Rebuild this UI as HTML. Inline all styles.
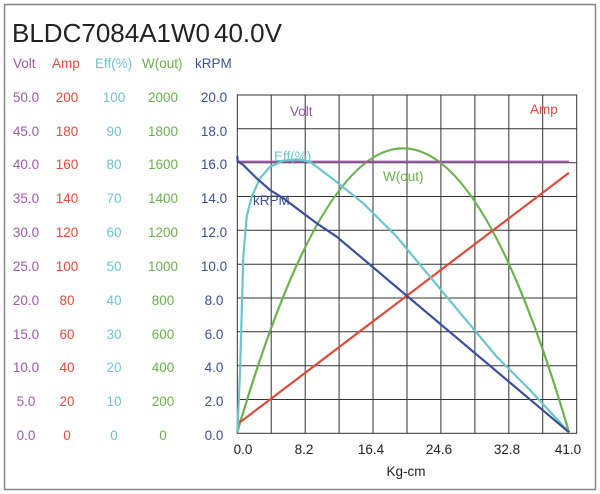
<!DOCTYPE html>
<html><head><meta charset="utf-8"><style>
body{margin:0;background:#fff;}
svg{display:block;font-family:"Liberation Sans",sans-serif;}
</style></head><body>
<svg width="600" height="494" viewBox="0 0 600 494" xmlns="http://www.w3.org/2000/svg">
<rect x="4.5" y="4.5" width="591" height="485" fill="#fff" stroke="#888" stroke-width="1.5"/>
<text x="12" y="42" font-size="26" fill="#222">BLDC7084A1W0</text>
<text x="214" y="42" font-size="26" fill="#222">40.0V</text>
<g font-size="13.5">
<text x="13" y="68" fill="#9b59a8">Volt</text>
<text x="52" y="68" fill="#e04a3c">Amp</text>
<text x="95" y="68" fill="#6cc4cc">Eff(%)</text>
<text x="142" y="68" fill="#6ab04c">W(out)</text>
<text x="195" y="68" fill="#3a4f9a">kRPM</text>
</g>
<g stroke="#333" stroke-width="1" fill="none">
<rect x="237.3" y="95" width="339.4" height="338.3"/>
<path d="M271.2 95V433.3M305.2 95V433.3M339.1 95V433.3M373 95V433.3M407 95V433.3M440.9 95V433.3M474.9 95V433.3M508.8 95V433.3M542.7 95V433.3"/>
<path d="M237.3 128.8H576.7M237.3 162.7H576.7M237.3 196.5H576.7M237.3 230.3H576.7M237.3 264.2H576.7M237.3 298H576.7M237.3 331.8H576.7M237.3 365.7H576.7M237.3 399.5H576.7"/>
</g>
<g fill="none" stroke-width="2.2" stroke-linejoin="round">
<path d="M237.3 432.3Q403 -135.7 569 432.3" stroke="#6ab04c"/>
<path d="M237.3 161.7H569" stroke="#9b59a8"/>
<path d="M237.3 423.3L239 421.5 241.7 421 569 172.7" stroke="#e04a3c"/>
<path d="M237.3 432.3L240 373.3 243.3 256.7 246.7 216.7 251.7 196.7 260 178.3 270 166.7 283.3 160.7 296.7 159.3 310 161.7 330 176.7 363.3 203.3 396.7 236.7 430 276.7 463.3 316.7 496.7 356.7 530 390 569 432.3" stroke="#6cc4cc"/>
<path d="M237.3 156L237.6 161.7 238.3 161.7 243.3 165 256.7 178.3 270 190 283.3 198.3 303.3 213.3 316.7 223.3 336.7 236.7 569 432.3" stroke="#3a4f9a"/>
</g>
<g font-size="13.5">
<text x="290" y="116" fill="#9b59a8">Volt</text>
<text x="530" y="114" fill="#e04a3c">Amp</text>
<text x="274" y="161" fill="#6cc4cc">Eff(%)</text>
<text x="383" y="181" fill="#6ab04c">W(out)</text>
<text x="253" y="205" fill="#3a4f9a">kRPM</text>
</g>
<g font-size="13.5" fill="#222" text-anchor="middle">
<text x="243" y="454">0.0</text>
<text x="304" y="454">8.2</text>
<text x="371" y="454">16.4</text>
<text x="439" y="454">24.6</text>
<text x="507" y="454">32.8</text>
<text x="568" y="454">41.0</text>
<text x="406" y="476">Kg-cm</text>
</g>
<g font-size="13.5" text-anchor="middle">
<g fill="#9b59a8">
<text x="26" y="102">50.0</text><text x="26" y="136">45.0</text><text x="26" y="169">40.0</text><text x="26" y="203">35.0</text><text x="26" y="237">30.0</text><text x="26" y="271">25.0</text><text x="26" y="305">20.0</text><text x="26" y="339">15.0</text><text x="26" y="372">10.0</text><text x="26" y="406">5.0</text><text x="26" y="440">0.0</text>
</g>
<g fill="#e04a3c">
<text x="67" y="102">200</text><text x="67" y="136">180</text><text x="67" y="169">160</text><text x="67" y="203">140</text><text x="67" y="237">120</text><text x="67" y="271">100</text><text x="67" y="305">80</text><text x="67" y="339">60</text><text x="67" y="372">40</text><text x="67" y="406">20</text><text x="67" y="440">0</text>
</g>
<g fill="#6cc4cc">
<text x="114" y="102">100</text><text x="114" y="136">90</text><text x="114" y="169">80</text><text x="114" y="203">70</text><text x="114" y="237">60</text><text x="114" y="271">50</text><text x="114" y="305">40</text><text x="114" y="339">30</text><text x="114" y="372">20</text><text x="114" y="406">10</text><text x="114" y="440">0</text>
</g>
<g fill="#6ab04c">
<text x="163" y="102">2000</text><text x="163" y="136">1800</text><text x="163" y="169">1600</text><text x="163" y="203">1400</text><text x="163" y="237">1200</text><text x="163" y="271">1000</text><text x="163" y="305">800</text><text x="163" y="339">600</text><text x="163" y="372">400</text><text x="163" y="406">200</text><text x="163" y="440">0</text>
</g>
<g fill="#3a4f9a">
<text x="214" y="102">20.0</text><text x="214" y="136">18.0</text><text x="214" y="169">16.0</text><text x="214" y="203">14.0</text><text x="214" y="237">12.0</text><text x="214" y="271">10.0</text><text x="214" y="305">8.0</text><text x="214" y="339">6.0</text><text x="214" y="372">4.0</text><text x="214" y="406">2.0</text><text x="214" y="440">0.0</text>
</g>
</g>
</svg>
</body></html>
